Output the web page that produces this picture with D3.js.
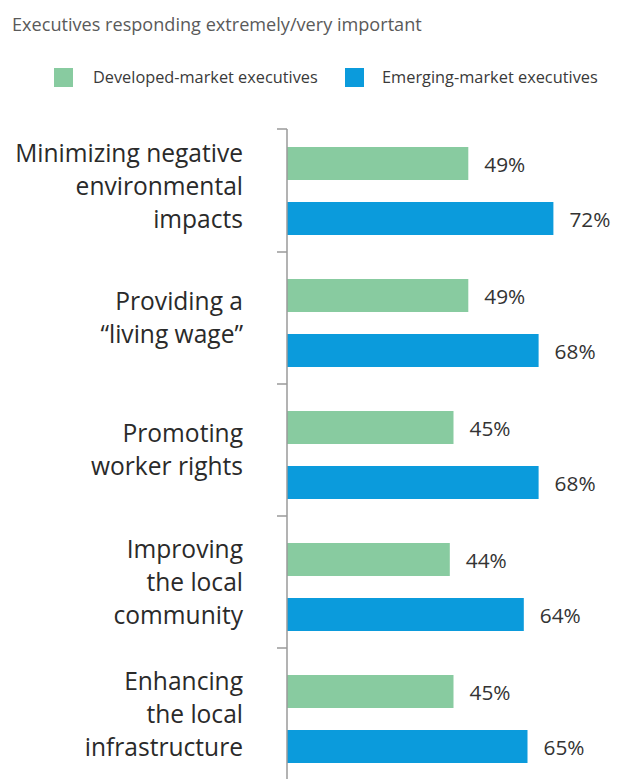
<!DOCTYPE html>
<html><head><meta charset="utf-8">
<script src="https://cdn.jsdelivr.net/npm/d3@7"></script>
<style>html,body{margin:0;padding:0;background:#fff;}svg{display:block;}</style>
</head><body>
<script>
const title = "Executives responding extremely/very important";
const seriesNames = ["Developed-market executives", "Emerging-market executives"];
const seriesColors = ["#88cba0", "#0b9bdc"];
const categories = [
  ["Minimizing negative", "environmental", "impacts"],
  ["Providing a", "\u201cliving wage\u201d"],
  ["Promoting", "worker rights"],
  ["Improving", "the local", "community"],
  ["Enhancing", "the local", "infrastructure"]
];
const developed = [49, 49, 45, 44, 45];
const emerging = [72, 68, 68, 64, 65];

(function () {
const W = 622, H = 779;
const FONT = "'Open Sans', 'Noto Sans', sans-serif";
const svg = d3.select("body").append("svg").attr("width", W).attr("height", H);

function fitSize(text, targetW, base) {
  const t = svg.append("text").style("font-family", FONT).style("font-size", base + "px").text(text);
  const w = t.node().getComputedTextLength();
  t.remove();
  return base * targetW / w;
}

// title
svg.append("text").attr("x", 12).attr("y", 31)
  .style("font-family", FONT).style("font-size", fitSize(title, 410, 16) + "px")
  .attr("fill", "#5a5a5a").text(title);

// legend
const legendPos = [{sx: 54, tx: 93, tw: 225}, {sx: 345, tx: 382, tw: 216}];
seriesNames.forEach((n, i) => {
  svg.append("rect").attr("x", legendPos[i].sx).attr("y", 68).attr("width", 19).attr("height", 19)
    .attr("fill", seriesColors[i]);
  svg.append("text").attr("x", legendPos[i].tx).attr("y", 83)
    .style("font-family", FONT).style("font-size", fitSize(n, legendPos[i].tw, 15) + "px")
    .attr("fill", "#3a3a3a").text(n);
});

const x = d3.scaleLinear().domain([0, 100]).range([287, 657]);
const y = d3.scaleBand().domain(d3.range(categories.length)).range([120, 780]).padding(0);

const barH = 33, gap = 22, offTop = 27;
const valSize = fitSize("72%", 41, 20);
const g = svg.append("g");

// bars
[developed, emerging].forEach((vals, s) => {
  g.selectAll(".b" + s).data(vals).enter().append("rect")
    .attr("x", x(0)).attr("y", (d, i) => y(i) + offTop + s * (barH + gap))
    .attr("width", d => x(d) - x(0)).attr("height", barH)
    .attr("fill", seriesColors[s]);
  g.selectAll(".l" + s).data(vals).enter().append("text")
    .attr("x", d => x(d) + 16).attr("y", (d, i) => y(i) + offTop + s * (barH + gap) + barH / 2 + 8)
    .style("font-family", FONT).style("font-size", valSize + "px").attr("fill", "#333")
    .text(d => d + "%");
});

// axis
const axisTop = 129;
g.append("line").attr("x1", x(0)).attr("x2", x(0)).attr("y1", axisTop).attr("y2", H)
  .attr("stroke", "#9a9a9a").attr("stroke-width", 1.5);
const tickYs = [axisTop].concat(d3.range(1, categories.length).map(i => y(i)));
g.selectAll(".tick").data(tickYs).enter().append("line")
  .attr("x1", x(0) - 10).attr("x2", x(0)).attr("y1", d => d).attr("y2", d => d)
  .attr("stroke", "#9a9a9a").attr("stroke-width", 1.5);

// category labels
const catSize = fitSize("Minimizing negative", 228, 24);
const lineH = 33;
categories.forEach((lines, i) => {
  const c = y(i) + offTop + barH + gap / 2 - 5;
  lines.forEach((ln, j) => {
    svg.append("text").attr("x", 243).attr("text-anchor", "end")
      .attr("y", c + (j - (lines.length - 1) / 2) * lineH + 8.5)
      .style("font-family", FONT).style("font-size", catSize + "px")
      .attr("fill", "#2a2a2a").text(ln);
  });
});
})();
</script>
</body></html>
